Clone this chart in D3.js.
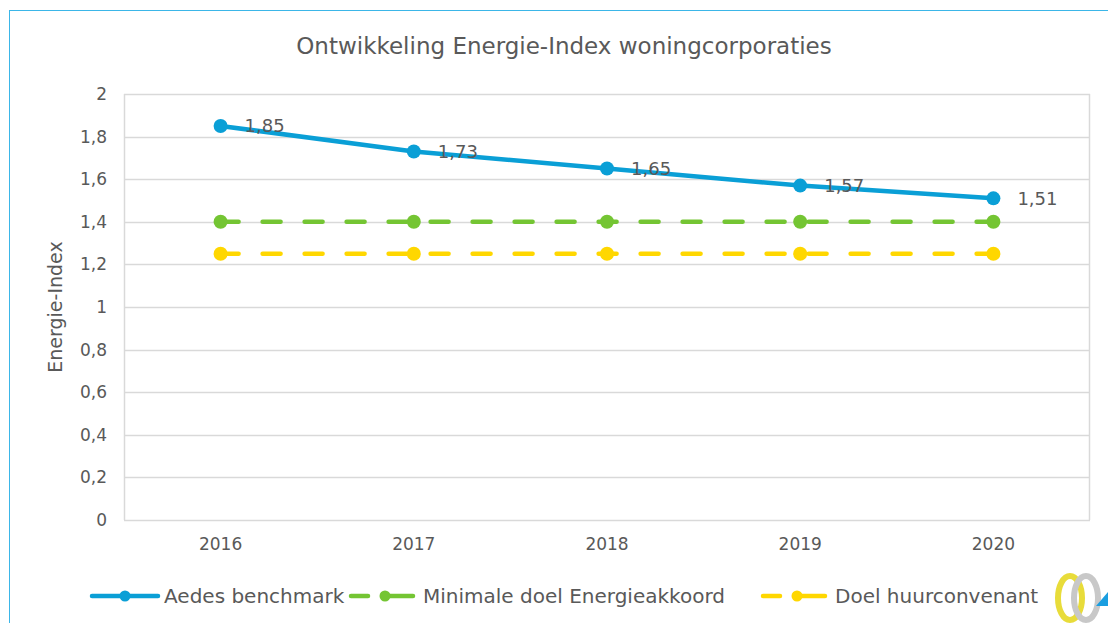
<!DOCTYPE html>
<html lang="nl">
<head>
    <meta charset="UTF-8"/>
    <title>Ontwikkeling Energie-Index woningcorporaties</title>
    <script src="https://d3js.org/d3.v7.min.js"></script>
    <style>
        body { margin: 0; background: #fff; }
        text { font-family: "DejaVu Sans", "Noto Sans", sans-serif; fill: #595959; }
    </style>
</head>
<body>
<div id="chart"></div>
<script>
    // data
    const years = ["2016", "2017", "2018", "2019", "2020"];
    const aedes = [1.85, 1.73, 1.65, 1.57, 1.51];
    const energieakkoord = [1.4, 1.4, 1.4, 1.4, 1.4];
    const huurconvenant = [1.25, 1.25, 1.25, 1.25, 1.25];
    const yTicks = [0, 0.2, 0.4, 0.6, 0.8, 1, 1.2, 1.4, 1.6, 1.8, 2];
    const seriesNames = ["Aedes benchmark", "Minimale doel Energieakkoord", "Doel huurconvenant"];

    const W = 1108, H = 623;
    const margin = {top: 94, right: 18, bottom: 103, left: 124};
    const width = W - margin.left - margin.right;
    const height = H - margin.top - margin.bottom;

    const svg = d3.select("#chart").append("svg")
        .attr("width", W).attr("height", H);

    // outer frame
    svg.append("rect").attr("x", 9.5).attr("y", 10.5)
        .attr("width", W).attr("height", H)
        .attr("fill", "none").attr("stroke", "#3bb6e8").attr("stroke-width", 1);

    const g = svg.append("g").attr("transform", "translate(" + margin.left + "," + margin.top + ")");

    const x = d3.scaleBand().domain(years).range([0, width]);
    const y = d3.scaleLinear().domain([0, 2]).range([height, 0]);
    const fmt = v => d3.format("")(v).replace(".", ",");

    // grid lines
    g.append("g").selectAll("line").data(yTicks).join("line")
        .attr("x1", 0).attr("x2", width)
        .attr("y1", d => Math.round(y(d)) + 0.5).attr("y2", d => Math.round(y(d)) + 0.5)
        .attr("stroke", "#d9d9d9").attr("stroke-width", 1.5);
    g.append("line").attr("x1", 0.5).attr("x2", 0.5).attr("y1", 0).attr("y2", height)
        .attr("stroke", "#d9d9d9").attr("stroke-width", 1.5);
    g.append("line").attr("x1", width - 0.5).attr("x2", width - 0.5).attr("y1", 0).attr("y2", height)
        .attr("stroke", "#d9d9d9").attr("stroke-width", 1.5);

    // axes
    const yAxis = g.append("g").call(d3.axisLeft(y).tickValues(yTicks).tickSize(0).tickPadding(17).tickFormat(fmt));
    yAxis.select(".domain").remove();
    yAxis.selectAll("text").style("font-size", "17px").attr("fill", "#595959");

    const xAxis = g.append("g").attr("transform", "translate(0," + height + ")")
        .call(d3.axisBottom(x).tickSize(0).tickPadding(18));
    xAxis.select(".domain").remove();
    xAxis.selectAll("text").style("font-size", "17px").attr("fill", "#595959");

    // title and axis label
    svg.append("text").attr("x", 564).attr("y", 54).attr("text-anchor", "middle")
        .style("font-size", "23px").text("Ontwikkeling Energie-Index woningcorporaties");
    svg.append("text").attr("transform", "translate(62," + (margin.top + height / 2) + ") rotate(-90)")
        .attr("text-anchor", "middle").style("font-size", "19px").text("Energie-Index");

    const colors = ["#0a9fd6", "#74c533", "#ffd700"];
    const dashes = [null, "18,24", "18,24"];
    const allSeries = [aedes, energieakkoord, huurconvenant];
    const cx = d => x(d) + x.bandwidth() / 2;

    const line = d3.line().x((d, i) => cx(years[i])).y(d => y(d));

    // draw dashed series first, blue on top
    [2, 1, 0].forEach(function(s) {
        g.append("path").datum(allSeries[s])
            .attr("fill", "none").attr("stroke", colors[s]).attr("stroke-width", 4.5)
            .attr("stroke-linecap", "round")
            .attr("stroke-dasharray", dashes[s])
            .attr("d", line);
        g.append("g").selectAll("circle").data(allSeries[s]).join("circle")
            .attr("cx", (d, i) => cx(years[i])).attr("cy", d => y(d))
            .attr("r", 7).attr("fill", colors[s]);
    });

    // data labels for Aedes
    g.append("g").selectAll("text").data(aedes).join("text")
        .attr("x", (d, i) => cx(years[i]) + 24).attr("y", d => y(d))
        .attr("dy", "0.36em").style("font-size", "18px").attr("fill", "#404040")
        .text(fmt);

    // legend
    const legendX = [92, 351, 763];
    const legend = svg.append("g").attr("transform", "translate(0,596)");
    seriesNames.forEach(function(name, s) {
        const lx = legendX[s];
        if (s === 0) {
            legend.append("line").attr("x1", lx).attr("x2", lx + 66)
                .attr("stroke", colors[s]).attr("stroke-width", 4.5).attr("stroke-linecap", "round");
        } else {
            legend.append("line").attr("x1", lx).attr("x2", lx + 17)
                .attr("stroke", colors[s]).attr("stroke-width", 4.5).attr("stroke-linecap", "round");
            legend.append("line").attr("x1", lx + 37).attr("x2", lx + 62)
                .attr("stroke", colors[s]).attr("stroke-width", 4.5).attr("stroke-linecap", "round");
        }
        legend.append("circle").attr("cx", lx + (s === 0 ? 33 : 34)).attr("cy", 0)
            .attr("r", 5.5).attr("fill", colors[s]);
        legend.append("text").attr("x", lx + 72).attr("y", 0).attr("dy", "0.36em")
            .style("font-size", "20px").text(name);
    });

    // small logo in the corner
    const logo = svg.append("g").attr("transform", "translate(1078,598)");
    logo.append("ellipse").attr("cx", -8).attr("cy", 0).attr("rx", 12).attr("ry", 22)
        .attr("fill", "none").attr("stroke", "#e8dc3a").attr("stroke-width", 6);
    logo.append("ellipse").attr("cx", 8).attr("cy", 0).attr("rx", 12).attr("ry", 22)
        .attr("fill", "none").attr("stroke", "#c8c8c8").attr("stroke-width", 6);
    logo.append("path").attr("d", "M18,8 L30,-6 L30,8 Z").attr("fill", "#1a9ee0");
</script>
</body>
</html>
